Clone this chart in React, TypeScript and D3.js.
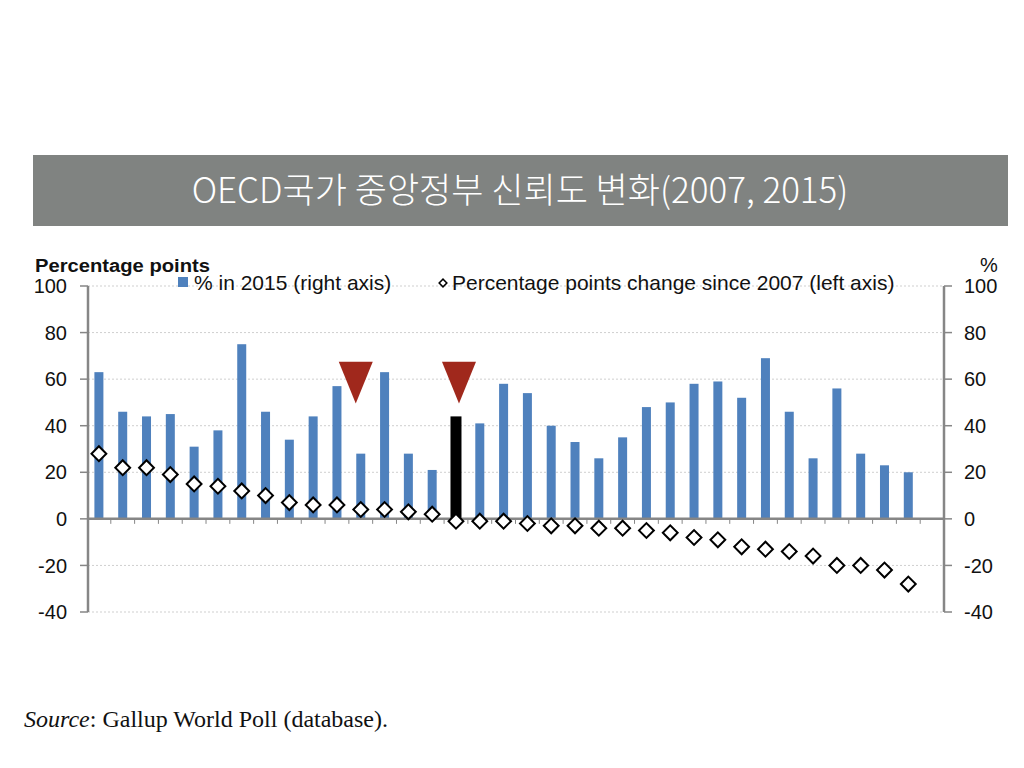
import React from 'react';
import * as d3 from 'd3';

// % trust in national government, 2015 (right axis)
const trust2015 = [63, 46, 44, 45, 31, 38, 75, 46, 34, 44, 57, 28, 63, 28, 21, 44, 41, 58, 54, 40, 33, 26, 35, 48, 50, 58, 59, 52, 69, 46, 26, 56, 28, 23, 20];
// percentage points change since 2007 (left axis)
const change07 = [28, 22, 22, 19, 15, 14, 12, 10, 7, 6, 6, 4, 4, 3, 2, -1, -1, -1, -2, -3, -3, -4, -4, -5, -6, -8, -9, -12, -13, -14, -16, -20, -20, -22, -28];
const slotCount = 36; // last slot is left empty like the original
const highlightIndex = 15;
const arrowIndices = [11, 15];
const arrowNudge = [-5, 3];
const yTicks = [100, 80, 60, 40, 20, 0, -20, -40];

const title = 'OECD국가 중앙정부 신뢰도 변화(2007, 2015)';
const legendBar = '% in 2015 (right axis)';
const legendDiamond = 'Percentage points change since 2007 (left axis)';

const W = 1024;
const H = 768;
const left = 88;
const right = 944;
const top = 286;
const bottom = 612;

export default function App() {
    const x = d3.scaleBand<number>().domain(d3.range(slotCount)).range([87, 944]);
    const y = d3.scaleLinear().domain([-40, 100]).range([bottom, top]);
    const bw = x.bandwidth();
    const cx = (i: number) => (x(i) ?? 0) + bw / 2;

    const diamond = d3.symbol().type(d3.symbolSquare).size(110)()!;
    const smallDiamond = d3.symbol().type(d3.symbolSquare).size(30)()!;
    const axisGrey = '#868686';
    const font = '"Liberation Sans", Arial, sans-serif';

    return (
        <svg width={W} height={H} style={{ position: 'absolute', left: 0, top: 0, background: '#fff' }}>
            {/* title banner */}
            <rect x={33} y={155} width={975} height={71} fill="#808381" />
            <text x={520} y={203} textAnchor="middle" fill="#fff" fontSize={35} fontWeight={300}
                fontFamily='"Noto Sans CJK KR", "Noto Sans", sans-serif'>{title}</text>

            {/* gridlines */}
            {yTicks.filter(t => t !== 0).map(t => (
                <line key={'g' + t} x1={left} x2={right} y1={y(t)} y2={y(t)} stroke="#cfcfcf" strokeWidth={1} strokeDasharray="2 2" />
            ))}

            {/* bars */}
            {trust2015.map((v, i) => (
                <rect key={'b' + i} x={cx(i) - (i === highlightIndex ? 5.5 : 4.5)} width={i === highlightIndex ? 11 : 9}
                    y={y(v)} height={y(0) - y(v)} fill={i === highlightIndex ? '#000' : '#4f81bd'} />
            ))}

            {/* axes */}
            <line x1={left} x2={left} y1={top} y2={bottom} stroke={axisGrey} strokeWidth={2.5} />
            <line x1={right} x2={right} y1={top} y2={bottom} stroke={axisGrey} strokeWidth={2.5} />
            <line x1={left} x2={right} y1={y(0)} y2={y(0)} stroke={axisGrey} strokeWidth={2.5} />
            {d3.range(1, slotCount).map(i => (
                <line key={'ct' + i} x1={x(i)} x2={x(i)} y1={y(0)} y2={y(0) + 5} stroke={axisGrey} strokeWidth={1} />
            ))}
            {yTicks.map(t => (
                <g key={'t' + t} fontFamily={font} fontSize={20} fill="#111">
                    <line x1={left - 8} x2={left} y1={y(t)} y2={y(t)} stroke={axisGrey} strokeWidth={1.5} />
                    <line x1={right} x2={right + 8} y1={y(t)} y2={y(t)} stroke={axisGrey} strokeWidth={1.5} />
                    <text x={67} y={y(t)} dy="0.36em" textAnchor="end">{t}</text>
                    <text x={964} y={y(t)} dy="0.36em" textAnchor="start">{t}</text>
                </g>
            ))}

            {/* diamonds */}
            {change07.map((v, i) => (
                <path key={'d' + i} d={diamond} transform={`translate(${cx(i)},${y(v)}) rotate(45)`}
                    fill="#fff" stroke="#000" strokeWidth={2} />
            ))}

            {/* red arrows */}
            {arrowIndices.map((idx, k) => {
                const ax = cx(idx) + arrowNudge[k];
                return (
                    <path key={'a' + idx} d={`M${ax - 17},${y(67.5)}L${ax + 17},${y(67.5)}L${ax},${y(49.5)}Z`} fill="#a0281c" />
                );
            })}

            {/* legend and axis titles */}
            <text x={35} y={272} fontFamily={font} fontWeight="bold" fontSize={18} fill="#111"
                textLength={175} lengthAdjust="spacingAndGlyphs">Percentage points</text>
            <text x={980} y={272} fontFamily={font} fontSize={20} fill="#111">%</text>
            <rect x={178} y={277} width={10} height={10} fill="#4f81bd" />
            <text x={194} y={290} fontFamily={font} fontSize={21} fill="#111">{legendBar}</text>
            <path d={smallDiamond} transform="translate(443,283) rotate(45)" fill="#fff" stroke="#000" strokeWidth={1.5} />
            <text x={452} y={290} fontFamily={font} fontSize={21} fill="#111">{legendDiamond}</text>

            {/* source */}
            <text x={24} y={727} fontFamily='"Liberation Serif", "Times New Roman", serif' fontSize={24} fill="#111">
                <tspan fontStyle="italic">Source</tspan>: Gallup World Poll (database).
            </text>
        </svg>
    );
}
